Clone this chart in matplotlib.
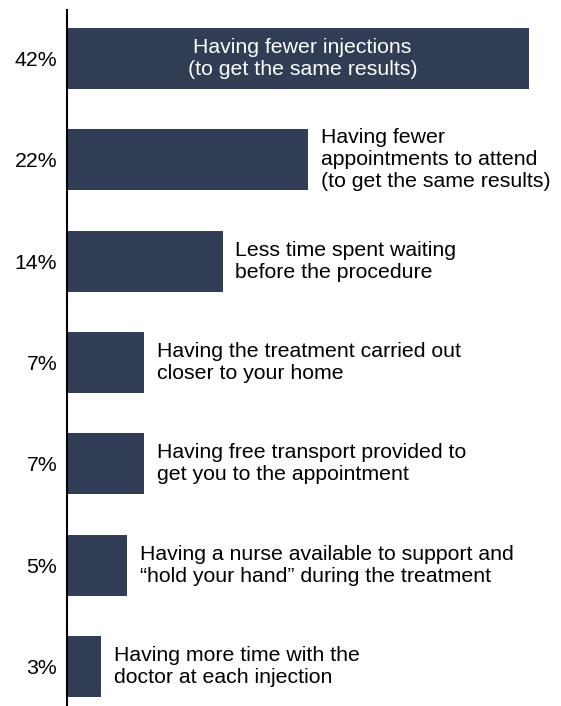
import matplotlib.pyplot as plt

plt.rcParams['font.family'] = ['Liberation Sans', 'DejaVu Sans']

# bar lengths (labels are rounded)
values = [42, 21.9, 14.15, 7, 7, 5.45, 3.1]
tick_labels = ['42%', '22%', '14%', '7%', '7%', '5%', '3%']
descriptions = [
    'Having fewer injections\n(to get the same results)',
    'Having fewer\nappointments to attend\n(to get the same results)',
    'Less time spent waiting\nbefore the procedure',
    'Having the treatment carried out\ncloser to your home',
    'Having free transport provided to\nget you to the appointment',
    'Having a nurse available to support and\n\u201chold your hand\u201d during the treatment',
    'Having more time with the\ndoctor at each injection',
]

bar_color = '#303d54'
fs = 15.3

fig = plt.figure(figsize=(5.61, 7.06), dpi=100)
ax = fig.add_axes([67 / 561, 0, 494 / 561, 696 / 706])

pos = list(range(len(values)))
ax.barh(pos, values, height=0.6, color=bar_color)

for i, (v, txt) in enumerate(zip(values, descriptions)):
    if i == 0:
        ax.text(v / 2 + 0.4, i, txt, color='white', ha='center', va='center',
                fontsize=fs, linespacing=1.2)
    else:
        ax.text(v + 1.15, i, txt, color='black', ha='left', va='center',
                fontsize=fs, linespacing=1.2)

ax.set_xlim(0, 44.9)
ax.set_ylim(6.39, -0.479)
ax.set_yticks(pos)
ax.set_yticklabels(tick_labels, fontsize=fs)
ax.tick_params(axis='y', length=0, pad=7)
ax.set_xticks([])
for s in ['top', 'right', 'bottom']:
    ax.spines[s].set_visible(False)
ax.spines['left'].set_linewidth(1.5)

fig.savefig('out.png', dpi=100)
